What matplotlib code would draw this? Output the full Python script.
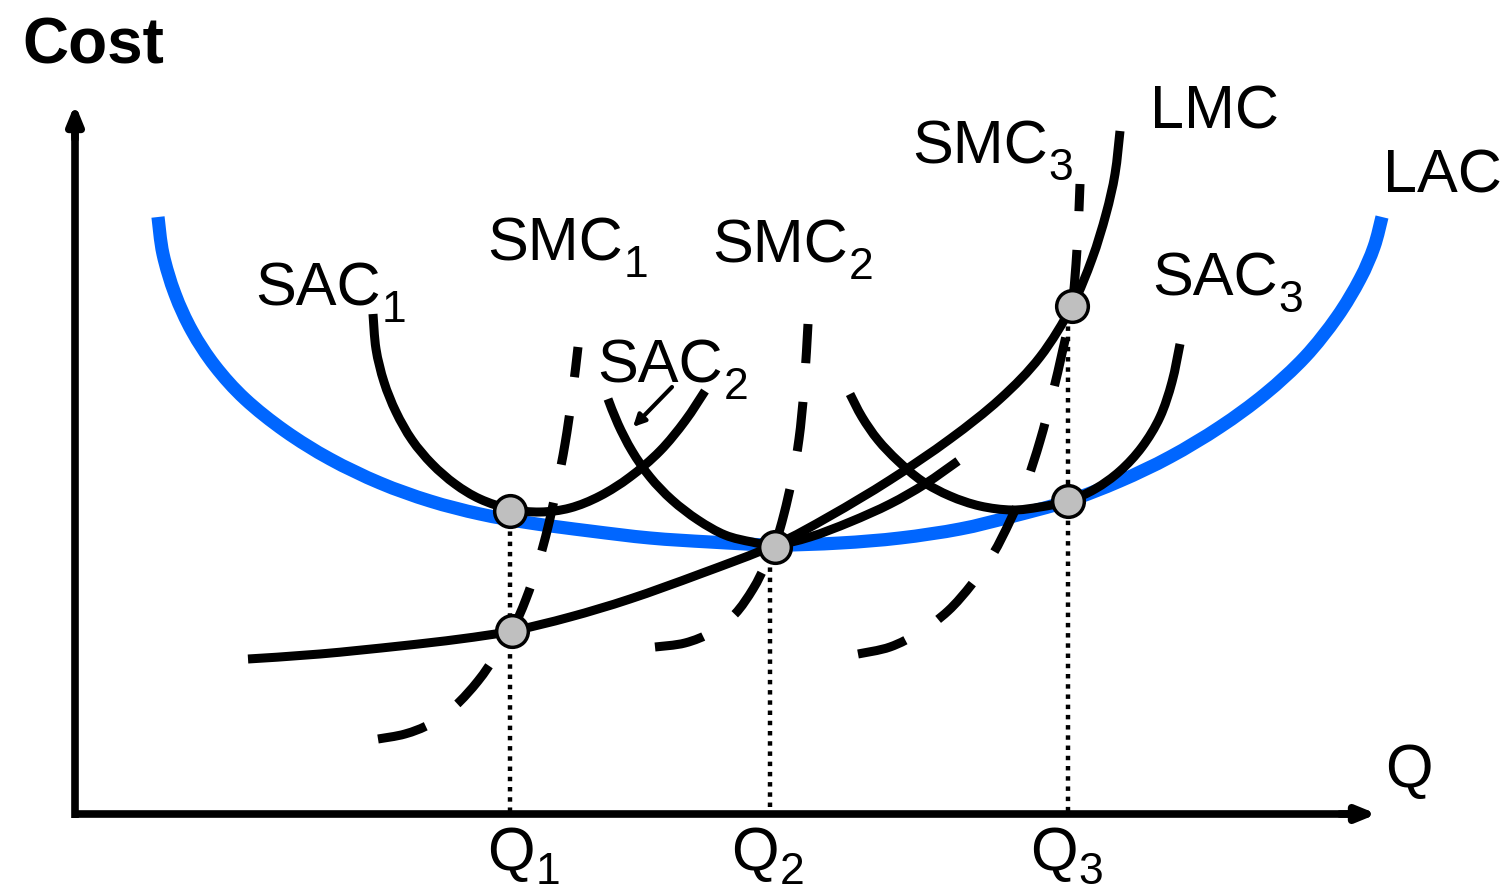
import matplotlib.pyplot as plt
import numpy as np
from matplotlib.path import Path
from matplotlib.patches import PathPatch

plt.rcParams['font.family'] = ['Liberation Sans', 'DejaVu Sans']

W, H = 1512, 895

# curves (x, y in pixel space, y downward)
lac_x = [158, 163, 175, 192, 215, 245, 285, 330, 380, 430, 480, 530, 590, 650, 710, 775,
         840, 900, 960, 1010, 1068, 1120, 1170, 1220, 1265, 1305, 1337, 1360, 1374, 1382]
lac_y = [218, 255, 295, 332, 367, 400, 432, 460, 484, 502, 515, 524, 532, 539, 543, 546,
         544, 539, 530, 518, 502, 482, 458, 428, 395, 358, 318, 280, 248, 218]

sac1_x = [373, 376, 384, 396, 412, 432, 455, 480, 510, 540, 570, 600, 630, 660, 685, 705]
sac1_y = [315, 350, 383, 413, 441, 465, 485, 500, 510, 513, 509, 497, 478, 452, 422, 392]

sac2_x = [608, 618, 632, 650, 672, 698, 725, 752, 775, 810, 850, 890, 925, 958]
sac2_y = [400, 425, 452, 478, 501, 521, 536, 543, 546, 538, 523, 505, 485, 462]

sac3_x = [850, 862, 878, 898, 922, 950, 980, 1012, 1040, 1068, 1095, 1120, 1142, 1160, 1172, 1180]
sac3_y = [395, 418, 441, 462, 482, 497, 507, 511, 508, 502, 490, 472, 448, 418, 383, 345]

lmc_x = [248, 320, 400, 460, 512, 570, 630, 700, 775, 830, 890, 950, 1000, 1040, 1072, 1092, 1106, 1115, 1120]
lmc_y = [660, 655, 647, 640, 632, 618, 600, 575, 546, 517, 481, 440, 400, 358, 307, 260, 215, 175, 132]

smc1_x = [378, 405, 430, 455, 478, 497, 512, 526, 538, 548, 557, 565, 572, 578]
smc1_y = [740, 735, 725, 707, 682, 655, 632, 600, 565, 528, 487, 445, 398, 348]

smc2_x = [655, 685, 712, 735, 753, 766, 775, 784, 792, 799, 804, 808]
smc2_y = [648, 644, 633, 615, 590, 565, 546, 515, 480, 440, 390, 325]

smc3_x = [858, 890, 920, 948, 972, 993, 1010, 1026, 1040, 1052, 1063, 1072, 1077, 1080]
smc3_y = [655, 648, 633, 612, 585, 555, 522, 485, 442, 397, 350, 307, 250, 185]

dot_x = [510, 512, 775, 1068, 1072]
dot_y = [512, 632, 548, 502, 307]

q_x = [510, 770, 1068]
q_top = [512, 548, 307]
q_label_x = [487, 731, 1030]
q_subs = ['1', '2', '3']

label_main = ['SAC', 'SMC', 'SMC', 'SAC', 'SMC', 'LMC', 'LAC', 'SAC']
label_sub = ['1', '1', '2', '2', '3', '', '', '3']
label_x = [255, 487, 712, 597, 912, 1150, 1383, 1152]
label_y = [305, 260, 262, 382, 163, 128, 192, 295]

axis_y = 815
axis_x = 75


def smooth(xs, ys):
    # Catmull-Rom through the points, handed to matplotlib as cubic Bezier segments
    p = np.column_stack([xs, ys]).astype(float)
    ext = np.vstack([p[0], p, p[-1]])
    verts = [p[0]]
    codes = [Path.MOVETO]
    for i in range(1, len(ext) - 2):
        p0, p1, p2, p3 = ext[i - 1], ext[i], ext[i + 1], ext[i + 2]
        verts += [p1 + (p2 - p0) / 6, p2 - (p3 - p1) / 6, p2]
        codes += [Path.CURVE4] * 3
    return Path(verts, codes)


fig = plt.figure(figsize=(W / 100, H / 100), dpi=100)
ax = fig.add_axes([0, 0, 1, 1])
ax.set_xlim(0, W)
ax.set_ylim(H, 0)
ax.axis('off')

blue = '#0066ff'
lw = 6.5

ax.add_patch(PathPatch(smooth(lac_x, lac_y), fill=False, edgecolor=blue, lw=9.5,
                       capstyle='butt', zorder=2))
for xs, ys in [(sac1_x, sac1_y), (sac2_x, sac2_y), (sac3_x, sac3_y), (lmc_x, lmc_y)]:
    ax.add_patch(PathPatch(smooth(xs, ys), fill=False, edgecolor='black', lw=lw,
                           capstyle='butt', zorder=3))
for xs, ys in [(smc1_x, smc1_y), (smc2_x, smc2_y), (smc3_x, smc3_y)]:
    ax.add_patch(PathPatch(smooth(xs, ys), fill=False, edgecolor='black', lw=lw,
                           linestyle=(0, (5.5, 4.3)), capstyle='butt', zorder=3))

# dotted guides down to the Q axis
for x, top in zip(q_x, q_top):
    ax.plot([x, x], [top, axis_y], color='black', lw=3.2,
            linestyle=(0, (1, 1.3)), dash_capstyle='butt', zorder=1)

ax.scatter(dot_x, dot_y, s=520, color='#bfbfbf', edgecolor='black', linewidth=2.5, zorder=5)

# axes with arrows
ax.plot([axis_x, axis_x], [axis_y + 4, 130], color='black', lw=5.5, solid_capstyle='butt')
ax.plot([axis_x - 3, 1350], [axis_y, axis_y], color='black', lw=5.5, solid_capstyle='butt')
ax.annotate('', xy=(axis_x, 105), xytext=(axis_x, 140),
            arrowprops=dict(arrowstyle='-|>,head_length=1.1,head_width=0.45',
                            lw=5.5, color='black', shrinkA=0, shrinkB=0))
ax.annotate('', xy=(1377, axis_y), xytext=(1340, axis_y),
            arrowprops=dict(arrowstyle='-|>,head_length=1.1,head_width=0.45',
                            lw=5.5, color='black', shrinkA=0, shrinkB=0))

# little arrow pointing at SAC2
ax.annotate('', xy=(633, 428), xytext=(672, 388),
            arrowprops=dict(arrowstyle='-|>,head_length=0.7,head_width=0.35',
                            lw=3, color='black', shrinkA=0, shrinkB=0))

ax.text(22, 63, 'Cost', fontsize=46, fontweight='bold', ha='left', va='baseline')
ax.text(1385, 787, 'Q', fontsize=44, ha='left', va='baseline')

fig.canvas.draw()
renderer = fig.canvas.get_renderer()
inv = ax.transData.inverted()


def label(x, y, main, sub, drop=17):
    t = ax.text(x, y, main, fontsize=44, ha='left', va='baseline')
    if sub:
        bb = t.get_window_extent(renderer)
        x1 = inv.transform((bb.x1, bb.y0))[0]
        ax.text(x1 + 1, y + drop, sub, fontsize=32, ha='left', va='baseline')


for m, s, x, y in zip(label_main, label_sub, label_x, label_y):
    label(x, y, m, s)
for x, s in zip(q_label_x, q_subs):
    label(x, 870, 'Q', s, drop=14)

fig.savefig('out.png', dpi=100)
